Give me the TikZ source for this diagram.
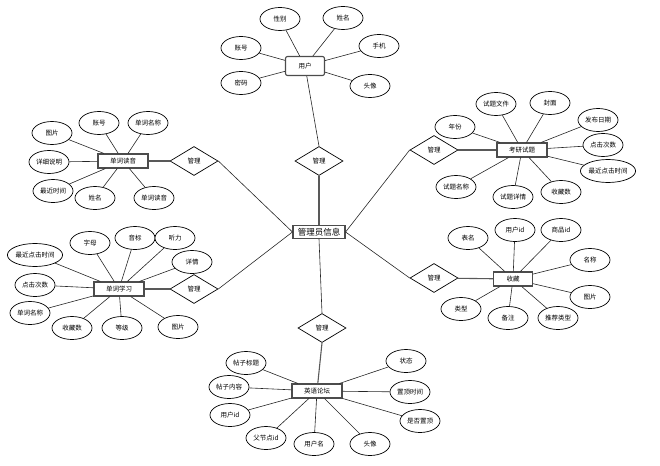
\documentclass[tikz,border=0pt]{standalone}
\usepackage{fontspec}
\newfontfamily\cjk{Noto Sans CJK SC}
\usetikzlibrary{shapes.geometric}

\begin{document}
\begin{tikzpicture}[
    x=1pt, y=-1pt,
    font=\cjk\fontsize{6.5}{7}\selectfont,
    attr/.style={ellipse, draw, line width=0.7pt, fill=white, inner sep=0pt,
                 minimum width=40pt, minimum height=23pt},
    entity/.style={rectangle, draw=black!70, line width=1.1pt, fill=white,
                   minimum width=50pt, minimum height=14pt, inner sep=1pt},
    rel/.style={diamond, draw, line width=0.7pt, fill=white, inner sep=1pt,
                aspect=1.65, minimum width=48pt, minimum height=29pt},
    link/.style={draw=black!85, line width=0.6pt},
    rlink/.style={draw=black!65, line width=1.1pt}
]
\useasboundingbox (0,0) rectangle (660,465);

% ---- Centre ----
\node[entity, minimum width=52pt, minimum height=13pt,
      font=\cjk\fontsize{8.5}{9}\selectfont] (admin) at (319,232) {管理员信息};

% ---- Relationships ----
\node[rel] (dtop)  at (319,161) {管理};
\node[rel] (dbot)  at (322,328) {管理};
\node[rel] (dlup)  at (194,161) {管理};
\node[rel] (dllo)  at (194,289) {管理};
\node[rel] (drup)  at (434,150) {管理};
\node[rel] (drlo)  at (434,278) {管理};

% ---- Entities ----
\node[entity, rounded corners=2pt, minimum width=39pt, minimum height=19pt] (user) at (305,66) {用户};
\node[entity] (wordaudio) at (123,161) {单词读音};
\node[entity] (exam)      at (522,150) {考研试题};
\node[entity] (wordstudy) at (119,289) {单词学习};
\node[entity, minimum width=39pt] (fav) at (513,279) {收藏};
\node[entity] (forum)     at (317,391) {英语论坛};

% ======== Admin links ========
\draw[rlink] (dtop.south) -- (admin.north);
\draw[link]  (admin.south) -- (dbot.north);
\draw[link]  (dlup.east) -- (admin.west);
\draw[link]  (dllo.east) -- (admin.west);
\draw[link]  (drup.west) -- (admin.east);
\draw[link]  (drlo.west) -- (admin.east);

\draw[link]  (user) -- (dtop.north);
\draw[rlink] (forum) -- (dbot.south);
\draw[rlink] (wordaudio) -- (dlup);
\draw[rlink] (wordstudy) -- (dllo);
\draw[rlink] (exam) -- (drup);
\draw[rlink] (fav) -- (drlo);

% ---- 用户 attributes ----
\node[attr] (u1) at (280,19) {性别};
\node[attr] (u2) at (343,18) {姓名};
\node[attr] (u3) at (241,48) {账号};
\node[attr] (u4) at (379,46) {手机};
\node[attr] (u5) at (241,83) {密码};
\node[attr] (u6) at (370,86) {头像};
\foreach \a in {u1,u2,u3,u4,u5,u6}
    \draw[link] (\a) -- (user);

% ---- 单词读音 attributes ----
\node[attr] (a1) at (52,133)  {图片};
\node[attr] (a2) at (99,123)  {账号};
\node[attr] (a3) at (148,123) {单词名称};
\node[attr] (a4) at (49,162)  {详细说明};
\node[attr] (a5) at (53,191)  {最近时间};
\node[attr] (a6) at (95,198)  {姓名};
\node[attr] (a7) at (154,198) {单词读音};
\foreach \a in {a1,a2,a3,a4,a5,a6,a7}
    \draw[link] (\a) -- (wordaudio);

% ---- 考研试题 attributes ----
\node[attr] (e1) at (455,127) {年份};
\node[attr] (e2) at (496,104) {试题文件};
\node[attr] (e3) at (550,103) {封面};
\node[attr] (e4) at (598,120) {发布日期};
\node[attr] (e5) at (603,145) {点击次数};
\node[attr] (e6) at (608,171) {最近点击时间};
\node[attr] (e7) at (456,187) {试题名称};
\node[attr] (e8) at (513,197) {试题详情};
\node[attr] (e9) at (561,192) {收藏数};
\foreach \a in {e1,e2,e3,e4,e5,e6,e7,e8,e9}
    \draw[link] (\a) -- (exam);

% ---- 单词学习 attributes ----
\node[attr] (s1)  at (90,243)  {字母};
\node[attr] (s2)  at (135,238) {音标};
\node[attr] (s3)  at (175,238) {听力};
\node[attr] (s4)  at (192,262) {详情};
\node[attr] (s5)  at (35,255)  {最近点击时间};
\node[attr] (s6)  at (35,285)  {点击次数};
\node[attr] (s7)  at (30,313)  {单词名称};
\node[attr] (s8)  at (72,328)  {收藏数};
\node[attr] (s9)  at (122,328) {等级};
\node[attr] (s10) at (178,327) {图片};
\foreach \a in {s1,s2,s3,s4,s5,s6,s7,s8,s9,s10}
    \draw[link] (\a) -- (wordstudy);

% ---- 收藏 attributes ----
\node[attr] (f1) at (468,238) {表名};
\node[attr] (f2) at (515,230) {用户id};
\node[attr] (f3) at (561,230) {商品id};
\node[attr] (f4) at (590,260) {名称};
\node[attr] (f5) at (590,297) {图片};
\node[attr] (f6) at (461,309) {类型};
\node[attr] (f7) at (508,318) {备注};
\node[attr] (f8) at (558,318) {推荐类型};
\foreach \a in {f1,f2,f3,f4,f5,f6,f7,f8}
    \draw[link] (\a) -- (fav);

% ---- 英语论坛 attributes ----
\node[attr] (p1) at (246,363) {帖子标题};
\node[attr] (p2) at (229,387) {帖子内容};
\node[attr] (p3) at (230,415) {用户id};
\node[attr] (p4) at (266,438) {父节点id};
\node[attr] (p5) at (314,444) {用户名};
\node[attr] (p6) at (370,444) {头像};
\node[attr] (p7) at (406,361) {状态};
\node[attr] (p8) at (410,392) {置顶时间};
\node[attr] (p9) at (420,421) {是否置顶};
\foreach \a in {p1,p2,p3,p4,p5,p6,p7,p8,p9}
    \draw[link] (\a) -- (forum);

\end{tikzpicture}
\end{document}
